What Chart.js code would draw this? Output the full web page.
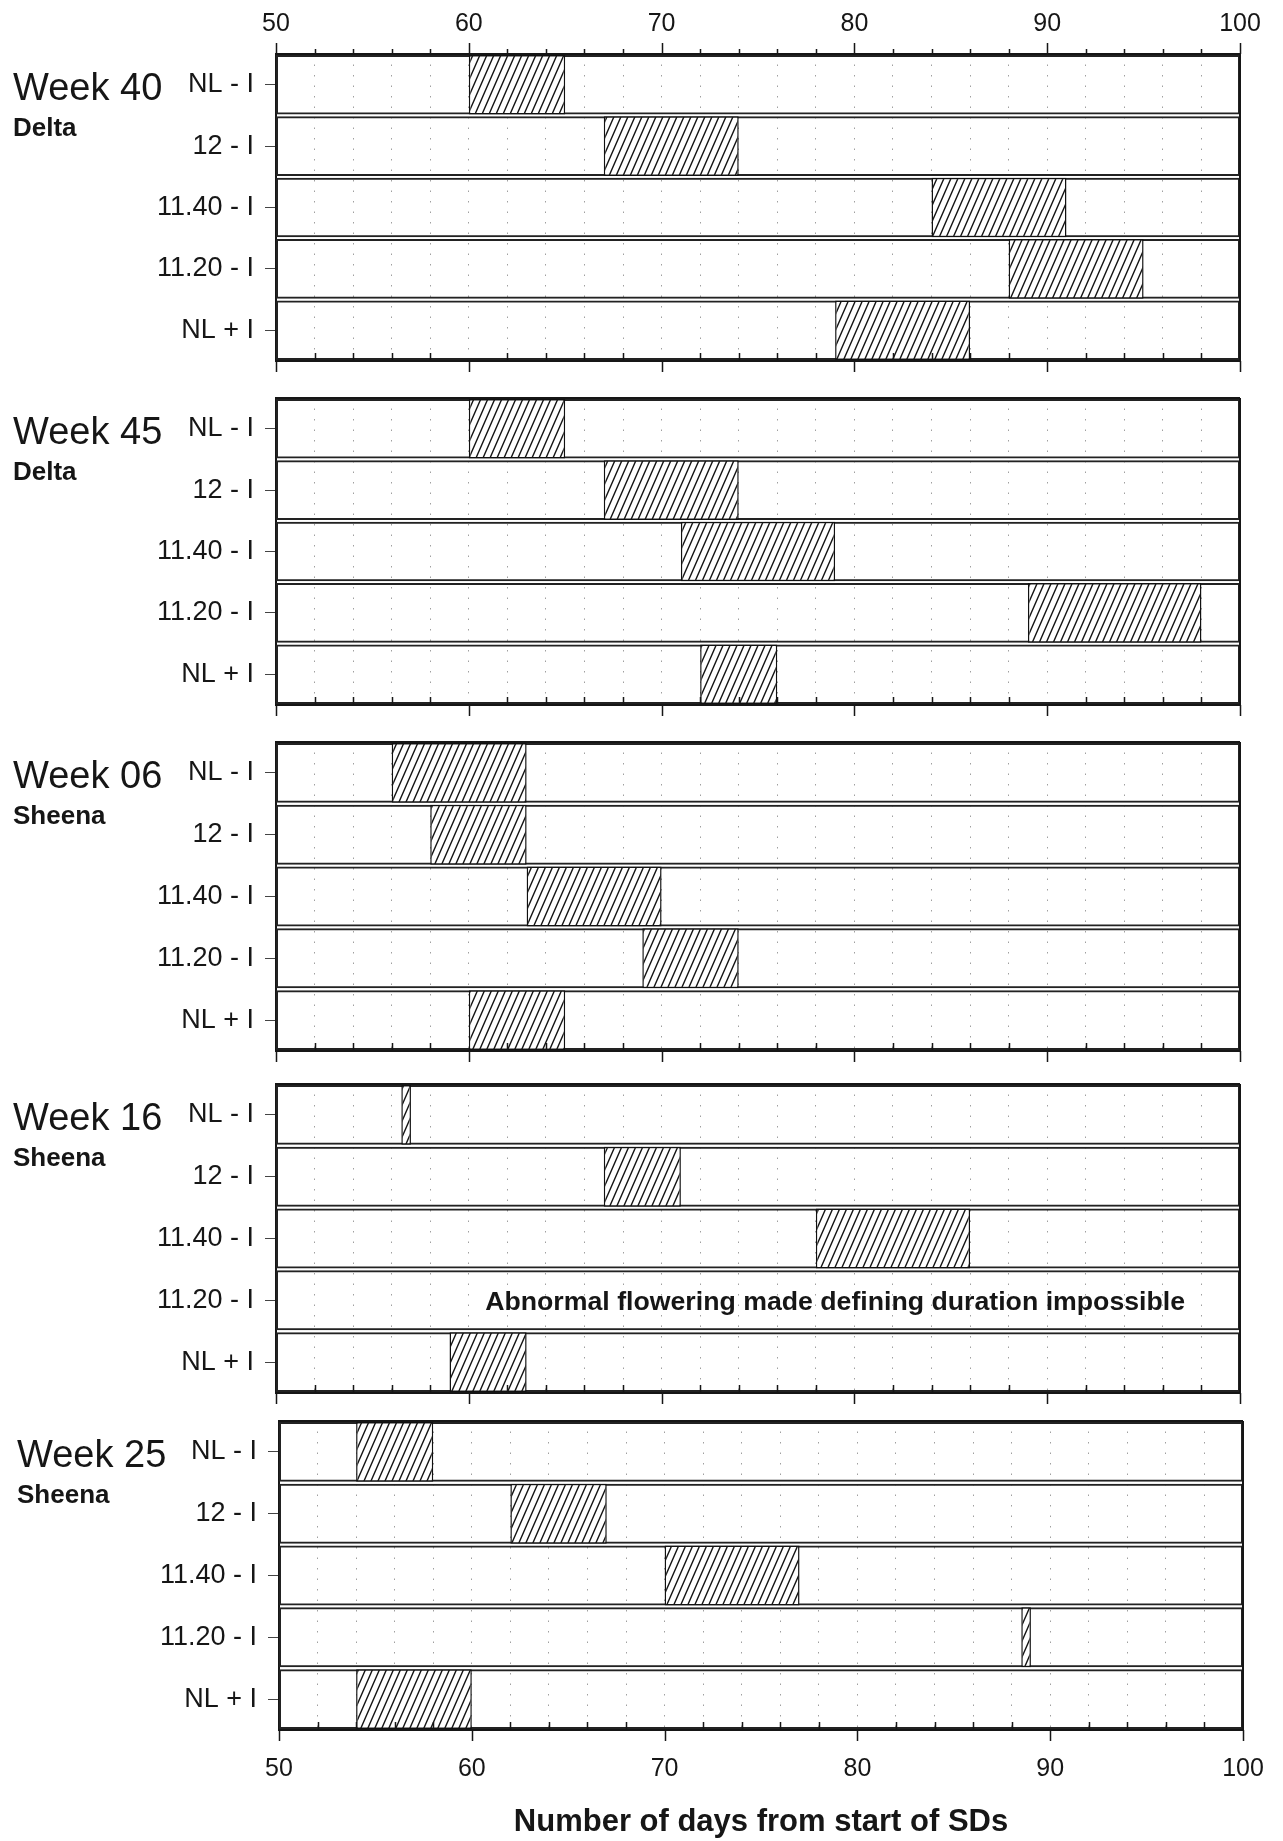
<!DOCTYPE html>
<html>
<head>
<meta charset="utf-8">
<script src="https://cdn.jsdelivr.net/npm/chart.js@4/dist/chart.umd.min.js"></script>
<style>
  html, body { margin: 0; padding: 0; background: #fff; }
  #wrap { position: relative; width: 1283px; height: 1841px; overflow: hidden; background: #fff; }
  #wrap canvas { position: absolute; left: 0; }
</style>
</head>
<body>
<div id="wrap"></div>
<script>
// Treatments (rows of every panel, top to bottom)
const treatments = ['NL - I', '12 - I', '11.40 - I', '11.20 - I', 'NL + I'];
// Panel headings
const weeks = ['Week 40', 'Week 45', 'Week 06', 'Week 16', 'Week 25'];
const cultivars = ['Delta', 'Delta', 'Sheena', 'Sheena', 'Sheena'];
// Flowering period per treatment: [first day, last day] after start of short days
const week40 = [[60, 65], [67, 74], [84, 91], [88, 95], [79, 86]];
const week45 = [[60, 65], [67, 74], [71, 79], [89, 98], [72, 76]];
const week06 = [[56, 63], [58, 63], [63, 70], [69, 74], [60, 65]];
const week16 = [[56.5, 57], [67, 71], [78, 86], null, [59, 63]];
const week25 = [[54, 58], [62, 67], [70, 77], [88.5, 89], [54, 60]];
// Axis
const dayRange = [50, 100];
const dayLabels = [50, 60, 70, 80, 90, 100];
const gridDays = [50, 52, 54, 56, 58, 60, 62, 64, 66, 68, 70, 72, 74, 76, 78, 80, 82, 84, 86, 88, 90, 92, 94, 96, 98, 100];
const xTitle = 'Number of days from start of SDs';
const week16Note = 'Abnormal flowering made defining duration impossible';
const week16NoteRow = '11.20 - I';

const periods = [week40, week45, week06, week16, week25];

// Page placement of each panel's plot area
const frames = [
  { top: 54,   bottom: 361,  left: 276, right: 1240, dx: 13 },
  { top: 398,  bottom: 705,  left: 276, right: 1240, dx: 13 },
  { top: 742,  bottom: 1051, left: 276, right: 1240, dx: 13 },
  { top: 1084, bottom: 1393, left: 276, right: 1240, dx: 13 },
  { top: 1421, bottom: 1730, left: 279, right: 1243, dx: 17 }
];

const FONT = '"Liberation Sans", Arial, Helvetica, sans-serif';
const INK = '#161616';

// Diagonal hatching used for the flowering bars
function makeHatch() {
  const w = 7, h = 16;
  const c = document.createElement('canvas');
  c.width = w; c.height = h;
  const g = c.getContext('2d');
  g.fillStyle = '#fff';
  g.fillRect(0, 0, w, h);
  g.strokeStyle = '#151515';
  g.lineWidth = 1.4;
  g.beginPath();
  for (let k = -1; k <= 1; k++) {
    g.moveTo(k * w - w, 2 * h);
    g.lineTo(k * w + 2 * w, -h);
  }
  g.stroke();
  return g.createPattern(c, 'repeat');
}
const hatch = makeHatch();

// Tick marks on the panel edges: minor ticks point inward, decades point outward
const axisMarks = {
  id: 'axisMarks',
  afterDatasetsDraw(chart, args, opts) {
    const { ctx, chartArea: a, scales: { x } } = chart;
    ctx.save();
    ctx.strokeStyle = INK;
    ctx.lineWidth = 1.5;
    ctx.beginPath();
    gridDays.forEach(v => {
      const px = Math.round(x.getPixelForValue(v)) + 0.5;
      const major = dayLabels.includes(v);
      if (major) {
        ctx.moveTo(px, a.bottom);
        ctx.lineTo(px, a.bottom + 11);
      } else {
        ctx.moveTo(px, a.bottom);
        ctx.lineTo(px, a.bottom - 8);
      }
      if (opts.top) {
        ctx.moveTo(px, a.top);
        ctx.lineTo(px, a.top - (major ? 11 : 5));
      }
    });
    ctx.stroke();
    // outer frame
    ctx.lineWidth = 2;
    ctx.beginPath();
    ctx.moveTo(a.left, a.top); ctx.lineTo(a.right, a.top);
    ctx.moveTo(a.left, a.bottom); ctx.lineTo(a.right, a.bottom);
    ctx.moveTo(a.right, a.top); ctx.lineTo(a.right, a.bottom);
    ctx.stroke();
    ctx.restore();
  }
};

// Panel heading (sowing week + cultivar) and optional in-plot note
const panelText = {
  id: 'panelText',
  afterDraw(chart, args, o) {
    const { ctx, chartArea: a, scales: { x, y } } = chart;
    const yc = y.getPixelForValue(0);
    ctx.save();
    ctx.fillStyle = INK;
    ctx.textAlign = 'left';
    ctx.textBaseline = 'alphabetic';
    ctx.font = '38px ' + FONT;
    ctx.fillText(o.week, o.dx, yc + 15);
    ctx.font = 'bold 26px ' + FONT;
    ctx.fillText(o.cultivar, o.dx, a.top + 82);
    if (o.note) {
      ctx.font = 'bold 26.7px ' + FONT;
      ctx.textAlign = 'center';
      ctx.textBaseline = 'middle';
      ctx.fillText(o.note, x.getPixelForValue(79), y.getPixelForValue(treatments.indexOf(week16NoteRow)) + 2);
    }
    ctx.restore();
  }
};

const wrap = document.getElementById('wrap');

frames.forEach((f, i) => {
  const first = i === 0;
  const last = i === frames.length - 1;
  const topExtra = first ? f.top : 20;
  const bottomExtra = last ? 1841 - f.bottom : 16;
  const cTop = f.top - topExtra;
  const h = f.bottom + bottomExtra - cTop;

  const canvas = document.createElement('canvas');
  canvas.width = 1283;
  canvas.height = h;
  canvas.style.top = cTop + 'px';
  canvas.style.width = '1283px';
  canvas.style.height = h + 'px';
  wrap.appendChild(canvas);

  new Chart(canvas, {
    type: 'bar',
    data: {
      labels: treatments,
      datasets: [
        {
          label: 'Flowering period',
          data: periods[i],
          backgroundColor: hatch,
          borderColor: '#111',
          borderWidth: 1.5,
          borderSkipped: false,
          barPercentage: 0.97,
          categoryPercentage: 1,
          grouped: false
        },
        {
          label: 'Row',
          data: treatments.map(() => dayRange),
          backgroundColor: 'rgba(0,0,0,0)',
          borderColor: '#222',
          borderWidth: 2,
          borderSkipped: false,
          barPercentage: 0.97,
          categoryPercentage: 1,
          grouped: false
        }
      ]
    },
    options: {
      indexAxis: 'y',
      responsive: false,
      animation: false,
      devicePixelRatio: 1,
      layout: {
        padding: {
          left: 0,
          right: 1283 - f.right,
          top: first ? 0 : topExtra,
          bottom: last ? 0 : bottomExtra
        }
      },
      plugins: {
        legend: { display: false },
        tooltip: { enabled: false },
        axisMarks: { top: first },
        panelText: { week: weeks[i], cultivar: cultivars[i], dx: f.dx, note: i === 3 ? week16Note : null }
      },
      scales: {
        x: {
          type: 'linear',
          position: first ? 'top' : 'bottom',
          min: dayRange[0],
          max: dayRange[1],
          afterBuildTicks(scale) { scale.ticks = gridDays.map(v => ({ value: v })); },
          afterFit(scale) {
            scale.height = first ? topExtra : (last ? bottomExtra : 0);
            scale.paddingLeft = 0;
            scale.paddingRight = 0;
          },
          ticks: {
            display: first || last,
            autoSkip: false,
            maxRotation: 0,
            padding: first ? 15 : 24,
            color: INK,
            font: { family: FONT, size: 25 },
            callback: v => (dayLabels.includes(v) ? String(v) : '')
          },
          grid: { drawTicks: false, color: '#a0a0a0', lineWidth: 1 },
          border: { display: false, dash: [1.5, 9] },
          title: {
            display: last,
            text: xTitle,
            color: INK,
            font: { family: FONT, size: 31, weight: 'bold' },
            padding: { top: 0, bottom: 0 }
          }
        },
        y: {
          type: 'category',
          offset: true,
          afterFit(scale) {
            scale.width = f.left;
            scale.paddingTop = 0;
            scale.paddingBottom = 0;
          },
          grid: { offset: false, drawOnChartArea: false, drawTicks: true, tickLength: 11, tickColor: '#444', tickWidth: 1 },
          border: { display: true, color: INK, width: 2 },
          ticks: { color: INK, padding: 11, font: { family: FONT, size: 27 } }
        }
      }
    },
    plugins: [axisMarks, panelText]
  });
});
</script>
</body>
</html>
